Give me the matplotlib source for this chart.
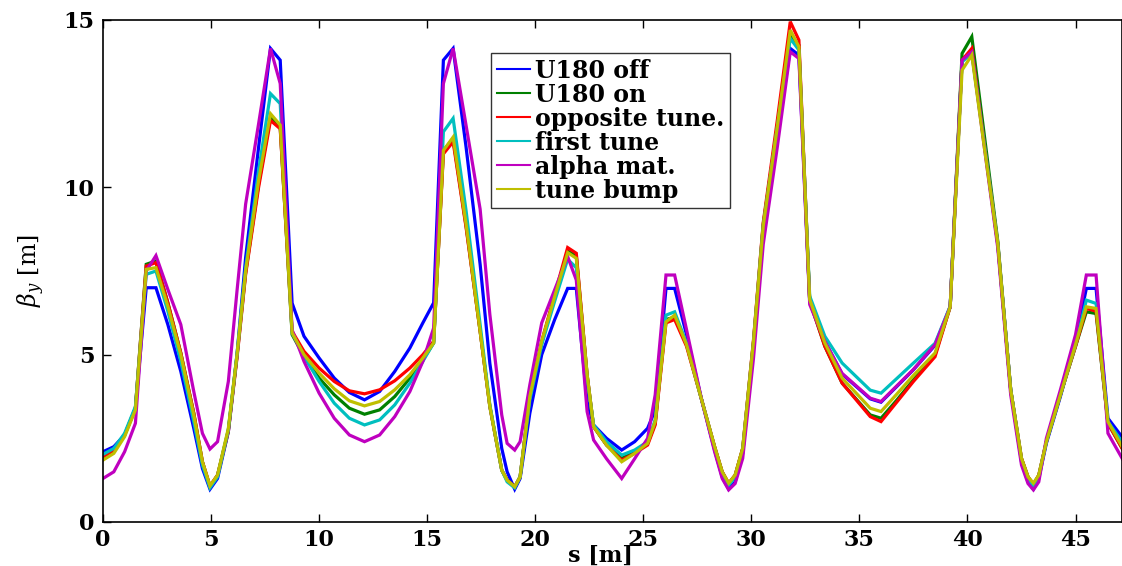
import matplotlib
matplotlib.use("Agg")
import matplotlib.pyplot as plt

s = [0, 0.5, 1.0, 1.5, 2.0, 2.45, 3.0, 3.6, 4.2, 4.6, 4.95, 5.3, 5.8, 6.2, 6.6, 7.2, 7.75, 8.2, 8.75, 9.3,
     10.0, 10.7, 11.4, 12.1, 12.8, 13.5, 14.2, 14.8, 15.3, 15.75, 16.2, 16.8, 17.45, 17.9, 18.45, 18.7, 19.05, 19.3, 19.75, 20.3,
     20.9, 21.5, 21.9, 22.4, 22.7, 23.3, 24.0, 24.6, 25.2, 25.55, 26.05, 26.45, 27.0, 27.7, 28.3, 28.65, 28.95, 29.25, 29.6, 30.1,
     30.55, 31.2, 31.8, 32.2, 32.7, 33.4, 34.2, 35.5, 36.0, 36.7, 37.5, 38.5, 39.2, 39.75, 40.2, 40.8, 41.4, 42.0, 42.5, 42.8,
     43.05, 43.3, 43.65, 44.3, 45.0, 45.5, 45.95, 46.5, 47.2]

u180_off = [2.1, 2.25, 2.6, 3.4, 7.0, 7.0, 5.9, 4.5, 2.8, 1.6, 0.98, 1.3, 2.7, 5.0, 7.9, 11.2, 14.15, 13.8, 6.54, 5.55,
            4.9, 4.3, 3.87, 3.65, 3.9, 4.5, 5.2, 5.95, 6.55, 13.8, 14.15, 11.2, 7.7, 4.74, 2.2, 1.5, 0.98, 1.3, 3.25, 5.0,
            6.05, 6.98, 6.98, 3.6, 2.9, 2.5, 2.15, 2.4, 2.8, 3.35, 6.98, 6.98, 5.6, 3.65, 2.15, 1.35, 0.98, 1.2, 2.05, 5.2,
            8.7, 11.5, 14.15, 13.95, 6.6, 5.4, 4.42, 3.68, 3.58, 4.03, 4.55, 5.28, 6.43, 13.8, 14.1, 11.2, 8.3, 3.95, 1.8, 1.2,
            0.98, 1.3, 2.35, 3.75, 5.4, 6.98, 6.98, 3.1, 2.5]

u180_on = [1.95, 2.15, 2.6, 3.4, 7.7, 7.8, 6.55, 5.05, 3.25, 1.8, 1.06, 1.4, 2.75, 4.95, 7.45, 10.1, 12.1, 11.8, 5.6, 4.95,
           4.3, 3.8, 3.4, 3.22, 3.35, 3.75, 4.3, 4.85, 5.35, 11.1, 11.45, 8.85, 5.7, 3.45, 1.55, 1.25, 1.05, 1.35, 3.75, 5.35,
           6.75, 8.1, 7.95, 4.4, 2.85, 2.3, 1.9, 2.1, 2.35, 2.95, 6.05, 6.12, 5.3, 3.65, 2.25, 1.5, 1.14, 1.4, 2.2, 5.4,
           8.9, 11.8, 14.55, 14.25, 6.6, 5.25, 4.15, 3.2, 3.1, 3.62, 4.25, 5.0, 6.43, 14.0, 14.5, 11.45, 8.4, 3.95, 1.9, 1.35,
           1.12, 1.4, 2.4, 3.8, 5.25, 6.28, 6.23, 2.95, 2.15]

opposite = [1.95, 2.15, 2.6, 3.4, 7.65, 7.75, 6.55, 5.05, 3.25, 1.8, 1.08, 1.4, 2.7, 4.9, 7.4, 10.0, 12.0, 11.75, 5.7, 5.1,
            4.6, 4.2, 3.92, 3.83, 3.95, 4.22, 4.6, 5.0, 5.4, 11.0, 11.36, 8.8, 5.7, 3.45, 1.55, 1.25, 1.05, 1.35, 3.75, 5.4,
            6.8, 8.2, 8.03, 4.4, 2.85, 2.3, 1.85, 2.05, 2.3, 2.9, 5.95, 6.05, 5.25, 3.65, 2.25, 1.5, 1.16, 1.4, 2.2, 5.45,
            8.95, 12.0, 14.95, 14.4, 6.6, 5.25, 4.15, 3.15, 3.0, 3.56, 4.2, 4.94, 6.43, 13.8, 14.15, 11.2, 8.33, 3.95, 1.9, 1.35,
            1.12, 1.4, 2.4, 3.8, 5.25, 6.38, 6.3, 2.95, 2.15]

first_tune = [2.02, 2.2, 2.65, 3.45, 7.4, 7.5, 6.3, 4.8, 3.0, 1.7, 1.02, 1.35, 2.75, 5.0, 7.6, 10.5, 12.8, 12.5, 5.65, 4.95,
              4.2, 3.55, 3.1, 2.9, 3.05, 3.5, 4.15, 4.8, 5.35, 11.66, 12.06, 9.3, 5.9, 3.5, 1.55, 1.2, 1.02, 1.35, 3.65, 5.3,
              6.6, 7.85, 7.6, 4.3, 2.9, 2.4, 2.0, 2.15, 2.4, 3.05, 6.18, 6.28, 5.35, 3.65, 2.2, 1.45, 1.1, 1.35, 2.15, 5.35,
              8.85, 11.8, 14.45, 14.1, 6.75, 5.55, 4.75, 3.94, 3.85, 4.27, 4.75, 5.34, 6.45, 13.75, 14.0, 11.2, 8.33, 3.95, 1.85, 1.3,
              1.08, 1.35, 2.4, 3.8, 5.3, 6.63, 6.53, 3.0, 2.35]

alpha_mat = [1.3, 1.5, 2.1, 2.95, 7.5, 7.96, 6.95, 5.9, 3.9, 2.65, 2.18, 2.4, 4.2, 6.9, 9.5, 11.9, 14.15, 13.1, 5.74, 4.8,
             3.85, 3.1, 2.6, 2.4, 2.6, 3.15, 3.9, 4.8, 5.8, 13.1, 14.15, 11.85, 9.35, 6.2, 3.2, 2.35, 2.15, 2.4, 4.1, 5.95,
             6.94, 7.93, 7.23, 3.3, 2.45, 1.89, 1.3, 1.89, 2.5, 3.8, 7.38, 7.38, 5.75, 3.65, 2.1, 1.3, 0.96, 1.15, 1.9, 4.9,
             8.3, 11.2, 14.05, 13.85, 6.5, 5.4, 4.44, 3.7, 3.6, 4.05, 4.56, 5.3, 6.43, 13.8, 14.05, 11.1, 8.2, 3.8, 1.7, 1.15,
             0.96, 1.2, 2.5, 3.95, 5.6, 7.38, 7.38, 2.65, 1.85]

tune_bump = [1.85, 2.05, 2.55, 3.35, 7.55, 7.6, 6.45, 5.0, 3.2, 1.8, 1.08, 1.4, 2.8, 5.0, 7.5, 10.2, 12.2, 11.86, 5.65, 5.0,
             4.45, 3.98, 3.62, 3.47, 3.6, 3.95, 4.4, 4.9, 5.35, 11.1, 11.5, 8.9, 5.7, 3.45, 1.55, 1.25, 1.05, 1.35, 3.75, 5.4,
             6.74, 8.05, 7.88, 4.4, 2.85, 2.3, 1.8, 2.05, 2.35, 3.0, 5.98, 6.18, 5.3, 3.65, 2.25, 1.5, 1.16, 1.4, 2.2, 5.4,
             8.85, 11.8, 14.7, 14.2, 6.65, 5.35, 4.3, 3.4, 3.3, 3.8, 4.38, 5.05, 6.43, 13.5, 13.95, 11.1, 8.33, 3.95, 1.9, 1.35,
             1.16, 1.4, 2.4, 3.8, 5.3, 6.43, 6.38, 3.0, 2.2]

labels = ["U180 off", "U180 on", "opposite tune.", "first tune", "alpha mat.", "tune bump"]
series = [u180_off, u180_on, opposite, first_tune, alpha_mat, tune_bump]
colors = ["#0000ff", "#008000", "#ff0000", "#00bfbf", "#bf00bf", "#bfbf00"]

xticks = [0, 5, 10, 15, 20, 25, 30, 35, 40, 45]
yticks = [0, 5, 10, 15]

plt.rcParams["mathtext.fontset"] = "dejavuserif"
fig = plt.figure(figsize=(11.22, 5.66), dpi=100)
ax = fig.add_axes([103 / 1122, 44 / 566, 1019 / 1122, 502 / 566])

for y, c, lab in zip(series, colors, labels):
    ax.plot(s, y, color=c, lw=2.3, label=lab, solid_joinstyle="miter")

ax.set_xlim(0, 47.15)
ax.set_ylim(0, 15)
ax.set_xticks(xticks)
ax.set_yticks(yticks)
tickfont = dict(family="DejaVu Serif", weight="bold", size=16)
ax.set_xticklabels([str(t) for t in xticks], **tickfont)
ax.set_yticklabels([str(t) for t in yticks], **tickfont)
ax.tick_params(direction="in", length=6, width=1, top=True, right=False)
ax.tick_params(axis="x", pad=5)
ax.tick_params(axis="y", pad=6)
for sp in ax.spines.values():
    sp.set_linewidth(1.2)

ax.set_xlabel("s [m]", family="DejaVu Serif", weight="bold", size=16)
ax.xaxis.set_label_coords(0.488, -0.045)
ax.set_ylabel(r"$\beta_y$ [m]", family="DejaVu Serif", size=17, labelpad=12)

leg = ax.legend(loc="upper left", bbox_to_anchor=(0.381, 0.935), frameon=True, fancybox=False,
                edgecolor="black", prop=dict(family="DejaVu Serif", weight="bold", size=17),
                handlelength=1.4, handletextpad=0.2, labelspacing=0.0, borderpad=0.25, borderaxespad=0)
leg.get_frame().set_linewidth(1.0)
for h in leg.get_lines():
    h.set_linewidth(1.5)

fig.savefig("out.png", dpi=100)
